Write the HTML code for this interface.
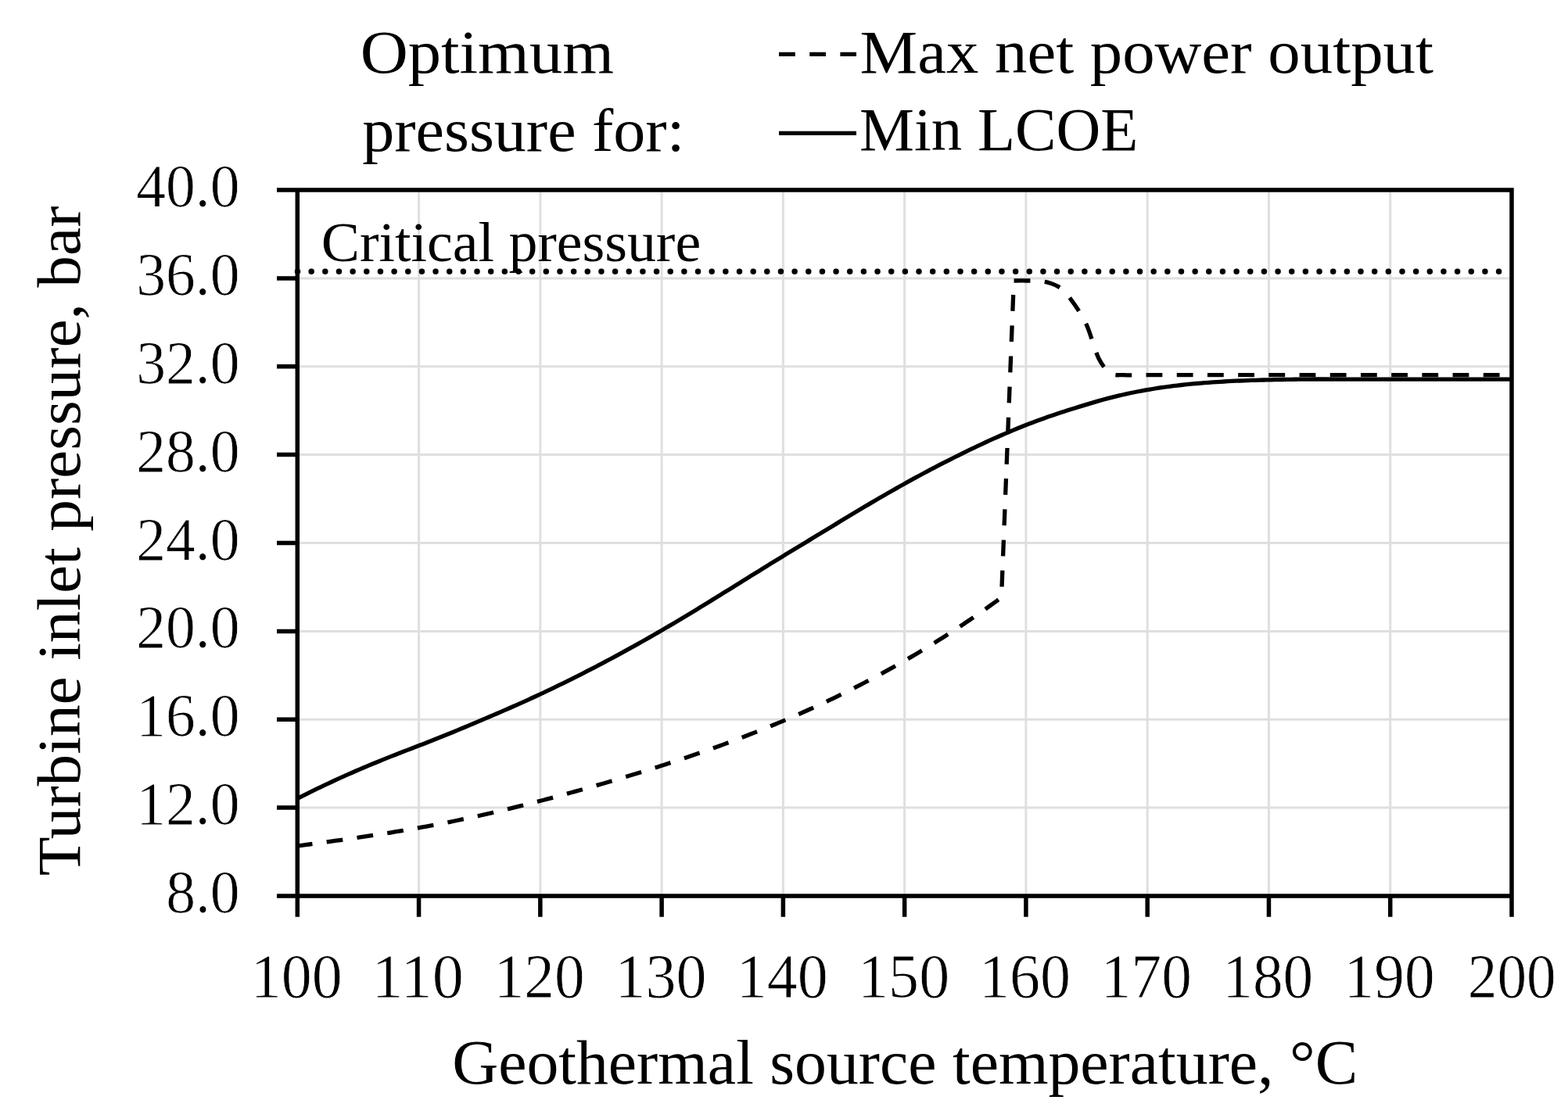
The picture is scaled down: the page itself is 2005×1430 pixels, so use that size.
<!DOCTYPE html>
<html><head><meta charset="utf-8"><title>Turbine inlet pressure vs geothermal source temperature</title>
<style>html,body{margin:0;padding:0;background:#fff;width:2005px;height:1430px;overflow:hidden}svg{display:block}</style>
</head><body>
<svg width="2005" height="1430" viewBox="0 0 2005 1430">
<rect x="0" y="0" width="2005" height="1430" fill="#fff"/>
<path d="M535.57 243.00V1146.00M690.84 243.00V1146.00M846.11 243.00V1146.00M1001.38 243.00V1146.00M1156.65 243.00V1146.00M1311.92 243.00V1146.00M1467.19 243.00V1146.00M1622.46 243.00V1146.00M1777.73 243.00V1146.00M380.30 1033.12H1933.00M380.30 920.25H1933.00M380.30 807.38H1933.00M380.30 694.50H1933.00M380.30 581.62H1933.00M380.30 468.75H1933.00M380.30 355.88H1933.00" stroke="#dfdfdf" stroke-width="3.0" fill="none"/>
<path d="M380.50 347.20H1933.00" stroke="#000" stroke-width="7.5" stroke-linecap="round" stroke-dasharray="0 17.656" fill="none"/>
<path d="M380.30 1021.49 L385.30 1018.93 L390.30 1016.40 L395.30 1013.89 L400.30 1011.42 L405.30 1008.98 L410.30 1006.57 L415.30 1004.18 L420.30 1001.83 L425.30 999.49 L430.30 997.19 L435.30 994.91 L440.30 992.66 L445.30 990.43 L450.30 988.23 L455.30 986.05 L460.30 983.89 L465.30 981.75 L470.30 979.64 L475.30 977.55 L480.30 975.48 L485.30 973.43 L490.30 971.40 L495.30 969.39 L500.30 967.40 L505.30 965.42 L510.30 963.47 L515.30 961.53 L520.30 959.60 L525.30 957.68 L530.30 955.76 L535.30 953.84 L540.30 951.91 L545.30 949.98 L550.30 948.02 L555.30 946.05 L560.30 944.06 L565.30 942.05 L570.30 940.03 L575.30 937.99 L580.30 935.94 L585.30 933.87 L590.30 931.79 L595.30 929.71 L600.30 927.61 L605.30 925.51 L610.30 923.40 L615.30 921.29 L620.30 919.16 L625.30 917.04 L630.30 914.90 L635.30 912.75 L640.30 910.59 L645.30 908.42 L650.30 906.24 L655.30 904.04 L660.30 901.82 L665.30 899.59 L670.30 897.34 L675.30 895.07 L680.30 892.78 L685.30 890.47 L690.30 888.14 L695.30 885.80 L700.30 883.43 L705.30 881.04 L710.30 878.64 L715.30 876.21 L720.30 873.77 L725.30 871.31 L730.30 868.83 L735.30 866.33 L740.30 863.81 L745.30 861.27 L750.30 858.72 L755.30 856.14 L760.30 853.55 L765.30 850.94 L770.30 848.31 L775.30 845.66 L780.30 843.00 L785.30 840.31 L790.30 837.61 L795.30 834.89 L800.30 832.15 L805.30 829.40 L810.30 826.62 L815.30 823.83 L820.30 821.02 L825.30 818.19 L830.30 815.35 L835.30 812.49 L840.30 809.61 L845.30 806.71 L850.30 803.80 L855.30 800.87 L860.30 797.92 L865.30 794.95 L870.30 791.97 L875.30 788.97 L880.30 785.96 L885.30 782.93 L890.30 779.89 L895.30 776.84 L900.30 773.78 L905.30 770.71 L910.30 767.63 L915.30 764.54 L920.30 761.44 L925.30 758.34 L930.30 755.24 L935.30 752.13 L940.30 749.02 L945.30 745.91 L950.30 742.80 L955.30 739.69 L960.30 736.58 L965.30 733.48 L970.30 730.38 L975.30 727.28 L980.30 724.19 L985.30 721.11 L990.30 718.03 L995.30 714.97 L1000.30 711.91 L1005.30 708.85 L1010.30 705.81 L1015.30 702.76 L1020.30 699.72 L1025.30 696.68 L1030.30 693.65 L1035.30 690.62 L1040.30 687.59 L1045.30 684.56 L1050.30 681.52 L1055.30 678.49 L1060.30 675.46 L1065.30 672.42 L1070.30 669.39 L1075.30 666.35 L1080.30 663.32 L1085.30 660.30 L1090.30 657.28 L1095.30 654.28 L1100.30 651.29 L1105.30 648.31 L1110.30 645.35 L1115.30 642.40 L1120.30 639.48 L1125.30 636.56 L1130.30 633.67 L1135.30 630.79 L1140.30 627.93 L1145.30 625.09 L1150.30 622.27 L1155.30 619.47 L1160.30 616.69 L1165.30 613.93 L1170.30 611.19 L1175.30 608.48 L1180.30 605.78 L1185.30 603.10 L1190.30 600.45 L1195.30 597.82 L1200.30 595.21 L1205.30 592.62 L1210.30 590.06 L1215.30 587.52 L1220.30 585.00 L1225.30 582.51 L1230.30 580.04 L1235.30 577.59 L1240.30 575.17 L1245.30 572.77 L1250.30 570.40 L1255.30 568.06 L1260.30 565.74 L1265.30 563.45 L1270.30 561.19 L1275.30 558.97 L1280.30 556.77 L1285.30 554.60 L1290.30 552.47 L1295.30 550.37 L1300.30 548.31 L1305.30 546.28 L1310.30 544.28 L1315.30 542.33 L1320.30 540.41 L1325.30 538.53 L1330.30 536.69 L1335.30 534.89 L1340.30 533.12 L1345.30 531.40 L1350.30 529.71 L1355.30 528.05 L1360.30 526.42 L1365.30 524.81 L1370.30 523.23 L1375.30 521.67 L1380.30 520.13 L1385.30 518.60 L1390.30 517.09 L1395.30 515.59 L1400.30 514.11 L1405.30 512.66 L1410.30 511.26 L1415.30 509.90 L1420.30 508.60 L1425.30 507.34 L1430.30 506.13 L1435.30 504.97 L1440.30 503.85 L1445.30 502.78 L1450.30 501.76 L1455.30 500.77 L1460.30 499.83 L1465.30 498.93 L1470.30 498.07 L1475.30 497.25 L1480.30 496.46 L1485.30 495.71 L1490.30 495.00 L1495.30 494.33 L1500.30 493.68 L1505.30 493.07 L1510.30 492.50 L1515.30 491.95 L1520.30 491.43 L1525.30 490.95 L1530.30 490.49 L1535.30 490.06 L1540.30 489.65 L1545.30 489.27 L1550.30 488.91 L1555.30 488.58 L1560.30 488.27 L1565.30 487.98 L1570.30 487.71 L1575.30 487.46 L1580.30 487.22 L1585.30 487.01 L1590.30 486.81 L1595.30 486.62 L1600.30 486.45 L1605.30 486.30 L1610.30 486.15 L1615.30 486.02 L1620.30 485.89 L1625.30 485.78 L1630.30 485.67 L1635.30 485.58 L1640.30 485.49 L1645.30 485.40 L1650.30 485.33 L1655.30 485.26 L1660.30 485.20 L1665.30 485.14 L1670.30 485.10 L1675.30 485.05 L1680.30 485.02 L1685.30 484.99 L1720.00 485.20 L1933.00 485.20" stroke="#000" stroke-width="5.3" fill="none" stroke-linejoin="round"/>
<path d="M380.30 1081.98 L385.30 1081.32 L390.30 1080.66 L395.30 1080.00 L400.30 1079.33 L405.30 1078.66 L410.30 1077.98 L415.30 1077.30 L420.30 1076.62 L425.30 1075.93 L430.30 1075.23 L435.30 1074.53 L440.30 1073.83 L445.30 1073.11 L450.30 1072.40 L455.30 1071.67 L460.30 1070.94 L465.30 1070.20 L470.30 1069.45 L475.30 1068.69 L480.30 1067.93 L485.30 1067.16 L490.30 1066.37 L495.30 1065.58 L500.30 1064.78 L505.30 1063.96 L510.30 1063.14 L515.30 1062.30 L520.30 1061.46 L525.30 1060.60 L530.30 1059.73 L535.30 1058.84 L540.30 1057.95 L545.30 1057.04 L550.30 1056.11 L555.30 1055.18 L560.30 1054.23 L565.30 1053.26 L570.30 1052.28 L575.30 1051.29 L580.30 1050.27 L585.30 1049.25 L590.30 1048.21 L595.30 1047.15 L600.30 1046.08 L605.30 1044.99 L610.30 1043.90 L615.30 1042.78 L620.30 1041.66 L625.30 1040.51 L630.30 1039.36 L635.30 1038.19 L640.30 1037.01 L645.30 1035.82 L650.30 1034.62 L655.30 1033.40 L660.30 1032.17 L665.30 1030.93 L670.30 1029.67 L675.30 1028.41 L680.30 1027.13 L685.30 1025.84 L690.30 1024.54 L695.30 1023.23 L700.30 1021.91 L705.30 1020.58 L710.30 1019.24 L715.30 1017.89 L720.30 1016.53 L725.30 1015.16 L730.30 1013.78 L735.30 1012.39 L740.30 1010.99 L745.30 1009.59 L750.30 1008.17 L755.30 1006.75 L760.30 1005.32 L765.30 1003.88 L770.30 1002.43 L775.30 1000.97 L780.30 999.51 L785.30 998.03 L790.30 996.55 L795.30 995.06 L800.30 993.56 L805.30 992.05 L810.30 990.52 L815.30 988.99 L820.30 987.45 L825.30 985.90 L830.30 984.33 L835.30 982.75 L840.30 981.17 L845.30 979.57 L850.30 977.95 L855.30 976.33 L860.30 974.69 L865.30 973.04 L870.30 971.38 L875.30 969.70 L880.30 968.01 L885.30 966.30 L890.30 964.58 L895.30 962.85 L900.30 961.10 L905.30 959.33 L910.30 957.55 L915.30 955.76 L920.30 953.94 L925.30 952.12 L930.30 950.27 L935.30 948.41 L940.30 946.53 L945.30 944.64 L950.30 942.72 L955.30 940.79 L960.30 938.84 L965.30 936.88 L970.30 934.89 L975.30 932.89 L980.30 930.86 L985.30 928.82 L990.30 926.76 L995.30 924.67 L1000.30 922.57 L1005.30 920.45 L1010.30 918.30 L1015.30 916.14 L1020.30 913.95 L1025.30 911.74 L1030.30 909.51 L1035.30 907.26 L1040.30 904.99 L1045.30 902.69 L1050.30 900.37 L1055.30 898.03 L1060.30 895.66 L1065.30 893.27 L1070.30 890.86 L1075.30 888.42 L1080.30 885.96 L1085.30 883.47 L1090.30 880.96 L1095.30 878.42 L1100.30 875.86 L1105.30 873.27 L1110.30 870.66 L1115.30 868.01 L1120.30 865.35 L1125.30 862.65 L1130.30 859.93 L1135.30 857.18 L1140.30 854.41 L1145.30 851.60 L1150.30 848.77 L1155.30 845.91 L1160.30 843.02 L1165.30 840.10 L1170.30 837.16 L1175.30 834.18 L1180.30 831.18 L1185.30 828.14 L1190.30 825.07 L1195.30 821.98 L1200.30 818.85 L1205.30 815.69 L1210.30 812.50 L1215.30 809.28 L1220.30 806.02 L1225.30 802.74 L1230.30 799.42 L1235.30 796.07 L1240.30 792.69 L1245.30 789.27 L1250.30 785.82 L1255.30 782.33 L1260.30 778.82 L1265.30 775.27 L1270.30 771.68 L1275.30 768.06 L1280.30 764.40 L1280.50 764.25 L1296.39 359.02 C1298.98 359.01 1306.74 358.92 1311.92 358.99 C1317.10 359.06 1322.28 358.92 1327.45 359.46 C1332.62 360.00 1337.80 360.38 1342.97 362.20 C1348.14 364.01 1353.32 365.78 1358.50 370.35 C1363.68 374.92 1368.85 382.00 1374.03 389.61 C1379.21 397.22 1384.38 404.47 1389.56 415.98 C1394.73 427.50 1399.90 448.45 1405.08 458.70 C1410.25 468.95 1415.43 473.98 1420.61 477.48 C1425.79 480.98 1430.97 479.33 1436.14 479.70 C1441.32 480.07 1446.49 479.70 1451.66 479.70 C1456.84 479.70 1462.01 479.70 1467.19 479.70 C1472.37 479.70 1480.13 479.70 1482.72 479.70 L1933.00 479.70" stroke="#000" stroke-width="5.3" fill="none" stroke-dasharray="20.8 18.4" stroke-dashoffset="1.5" stroke-linejoin="round"/>
<path d="M380.30 243.00H1933.00V1146.00H380.30ZM354.00 1146.00H380.30M354.00 1033.12H380.30M354.00 920.25H380.30M354.00 807.38H380.30M354.00 694.50H380.30M354.00 581.62H380.30M354.00 468.75H380.30M354.00 355.88H380.30M354.00 243.00H380.30M380.30 1146.00V1172.70M535.57 1146.00V1172.70M690.84 1146.00V1172.70M846.11 1146.00V1172.70M1001.38 1146.00V1172.70M1156.65 1146.00V1172.70M1311.92 1146.00V1172.70M1467.19 1146.00V1172.70M1622.46 1146.00V1172.70M1777.73 1146.00V1172.70M1933.00 1146.00V1172.70" stroke="#000" stroke-width="5.5" fill="none" stroke-linecap="butt" stroke-linejoin="miter"/>
<path d="M996.00 69.40H1095.00" stroke="#000" stroke-width="5.3" stroke-dasharray="20.8 18.4" fill="none"/>
<path d="M996.00 170.30H1095.00" stroke="#000" stroke-width="5.3" fill="none"/>
<g font-family="'Liberation Serif', 'DejaVu Serif', serif" fill="#000">
<text x="460.69" y="93.30" font-size="78.6" textLength="324.33" lengthAdjust="spacingAndGlyphs">Optimum</text>
<text x="463.27" y="193.20" font-size="78.6" textLength="412.22" lengthAdjust="spacingAndGlyphs">pressure for:</text>
<text x="1099.60" y="92.50" font-size="78.6" textLength="733.32" lengthAdjust="spacingAndGlyphs">Max net power output</text>
<text x="1099.06" y="192.30" font-size="78.6" textLength="356.27" lengthAdjust="spacingAndGlyphs">Min LCOE</text>
<text x="410.80" y="334.40" font-size="72.5" textLength="485.33" lengthAdjust="spacingAndGlyphs">Critical pressure</text>
<text x="212.18" y="1167.00" font-size="78.5" textLength="94.48" lengthAdjust="spacingAndGlyphs" stroke="#fff" stroke-width="0.8">8.0</text>
<text x="174.26" y="1054.12" font-size="78.5" textLength="132.28" lengthAdjust="spacingAndGlyphs" stroke="#fff" stroke-width="0.8">12.0</text>
<text x="174.26" y="941.25" font-size="78.5" textLength="132.28" lengthAdjust="spacingAndGlyphs" stroke="#fff" stroke-width="0.8">16.0</text>
<text x="174.26" y="828.38" font-size="78.5" textLength="132.28" lengthAdjust="spacingAndGlyphs" stroke="#fff" stroke-width="0.8">20.0</text>
<text x="174.26" y="715.50" font-size="78.5" textLength="132.28" lengthAdjust="spacingAndGlyphs" stroke="#fff" stroke-width="0.8">24.0</text>
<text x="174.26" y="602.62" font-size="78.5" textLength="132.28" lengthAdjust="spacingAndGlyphs" stroke="#fff" stroke-width="0.8">28.0</text>
<text x="174.26" y="489.75" font-size="78.5" textLength="132.28" lengthAdjust="spacingAndGlyphs" stroke="#fff" stroke-width="0.8">32.0</text>
<text x="174.26" y="376.88" font-size="78.5" textLength="132.28" lengthAdjust="spacingAndGlyphs" stroke="#fff" stroke-width="0.8">36.0</text>
<text x="174.26" y="264.00" font-size="78.5" textLength="132.28" lengthAdjust="spacingAndGlyphs" stroke="#fff" stroke-width="0.8">40.0</text>
<text x="320.85" y="1276.30" font-size="79.5" textLength="117.04" lengthAdjust="spacingAndGlyphs" stroke="#fff" stroke-width="0.8">100</text>
<text x="475.44" y="1276.30" font-size="79.5" textLength="117.42" lengthAdjust="spacingAndGlyphs" stroke="#fff" stroke-width="0.8">110</text>
<text x="631.63" y="1276.30" font-size="79.5" textLength="115.97" lengthAdjust="spacingAndGlyphs" stroke="#fff" stroke-width="0.8">120</text>
<text x="786.40" y="1276.30" font-size="79.5" textLength="117.04" lengthAdjust="spacingAndGlyphs" stroke="#fff" stroke-width="0.8">130</text>
<text x="941.76" y="1276.30" font-size="79.5" textLength="117.04" lengthAdjust="spacingAndGlyphs" stroke="#fff" stroke-width="0.8">140</text>
<text x="1097.12" y="1276.30" font-size="79.5" textLength="117.04" lengthAdjust="spacingAndGlyphs" stroke="#fff" stroke-width="0.8">150</text>
<text x="1251.97" y="1276.30" font-size="79.5" textLength="117.04" lengthAdjust="spacingAndGlyphs" stroke="#fff" stroke-width="0.8">160</text>
<text x="1407.86" y="1276.30" font-size="79.5" textLength="115.97" lengthAdjust="spacingAndGlyphs" stroke="#fff" stroke-width="0.8">170</text>
<text x="1563.22" y="1276.30" font-size="79.5" textLength="115.97" lengthAdjust="spacingAndGlyphs" stroke="#fff" stroke-width="0.8">180</text>
<text x="1718.58" y="1276.30" font-size="79.5" textLength="115.97" lengthAdjust="spacingAndGlyphs" stroke="#fff" stroke-width="0.8">190</text>
<text x="1876.86" y="1276.30" font-size="79.5" textLength="112.86" lengthAdjust="spacingAndGlyphs" stroke="#fff" stroke-width="0.8">200</text>
<text x="578.15" y="1385.60" font-size="79.4" textLength="1158.03" lengthAdjust="spacingAndGlyphs">Geothermal source temperature, °C</text>
<g transform="translate(101.50,1120.17) rotate(-90)"><text x="0.00" y="0.00" font-size="79" textLength="856.47" lengthAdjust="spacingAndGlyphs">Turbine inlet pressure, bar</text></g>
</g>
</svg>
</body></html>
